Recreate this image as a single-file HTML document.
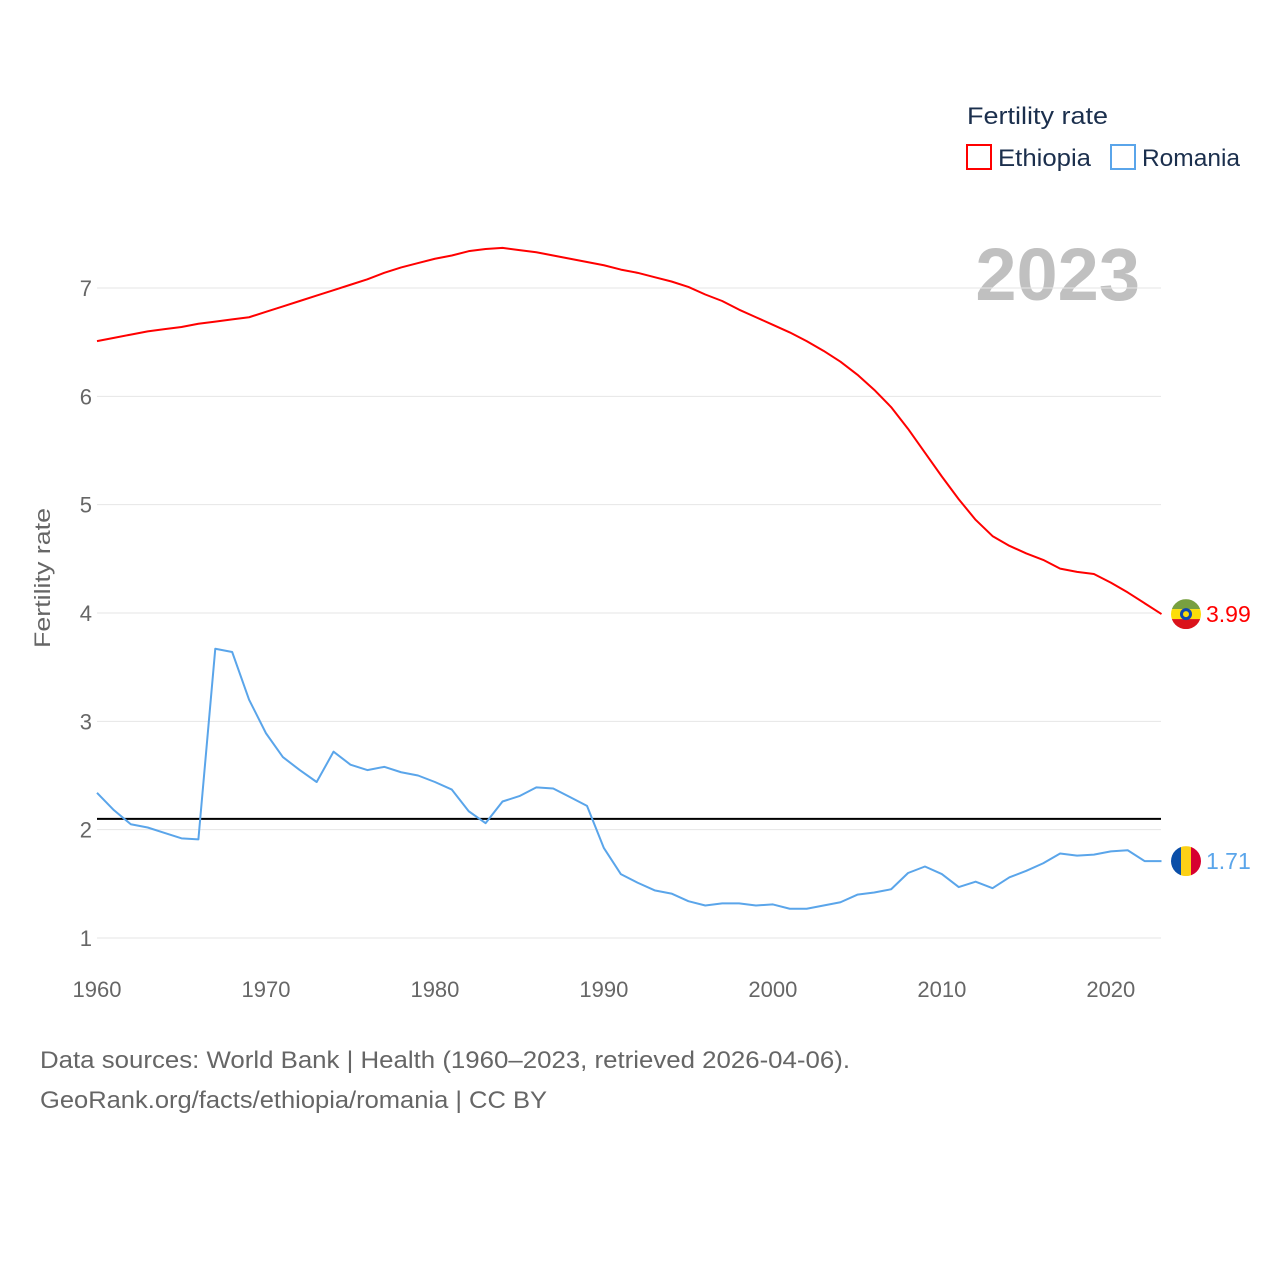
<!DOCTYPE html>
<html><head><meta charset="utf-8"><style>
body{margin:0;background:#fff;}
svg{display:block;font-family:"Liberation Sans",sans-serif;}
</style></head><body>
<svg id="c" width="1280" height="1280" xmlns="http://www.w3.org/2000/svg">
<text x="967" y="124" font-size="24" fill="#1b2f4d" textLength="141" lengthAdjust="spacingAndGlyphs">Fertility rate</text>
<g>
<rect x="967" y="145" width="24" height="24" fill="none" stroke="#f00" stroke-width="2"/>
<text x="998" y="166" font-size="24" fill="#1b2f4d" textLength="93" lengthAdjust="spacingAndGlyphs">Ethiopia</text></g>
<g>
<rect x="1111" y="145" width="24" height="24" fill="none" stroke="#5aa5ea" stroke-width="2"/>
<text x="1142" y="166" font-size="24" fill="#1b2f4d" textLength="98" lengthAdjust="spacingAndGlyphs">Romania</text></g>
<text x="1140" y="300" font-size="74" font-weight="bold" fill="#c0c0c0" text-anchor="end">2023</text>
<text transform="translate(50,578) rotate(-90)" font-size="22" fill="#666" text-anchor="middle" textLength="140" lengthAdjust="spacingAndGlyphs">Fertility rate</text>
<g id="grid"></g><g id="series"></g>
<text x="40" y="1068" font-size="24" fill="#666" textLength="810" lengthAdjust="spacingAndGlyphs">Data sources: World Bank | Health (1960–2023, retrieved 2026-04-06).</text>
<text x="40" y="1108" font-size="24" fill="#666" textLength="507" lengthAdjust="spacingAndGlyphs">GeoRank.org/facts/ethiopia/romania | CC BY</text>
</svg>
<script>
const years=[];for(let y=1960;y<=2023;y++)years.push(y);
const ethiopia=[6.51,6.54,6.57,6.60,6.62,6.64,6.67,6.69,6.71,6.73,6.78,6.83,6.88,6.93,6.98,7.03,7.08,7.14,7.19,7.23,7.27,7.30,7.34,7.36,7.37,7.35,7.33,7.30,7.27,7.24,7.21,7.17,7.14,7.10,7.06,7.01,6.94,6.88,6.80,6.73,6.66,6.59,6.51,6.42,6.32,6.20,6.06,5.90,5.70,5.48,5.26,5.05,4.86,4.71,4.62,4.55,4.49,4.41,4.38,4.36,4.28,4.19,4.09,3.99];
const romania=[2.34,2.18,2.05,2.02,1.97,1.92,1.91,3.67,3.64,3.20,2.89,2.67,2.55,2.44,2.72,2.60,2.55,2.58,2.53,2.50,2.44,2.37,2.17,2.06,2.26,2.31,2.39,2.38,2.30,2.22,1.83,1.59,1.51,1.44,1.41,1.34,1.30,1.32,1.32,1.30,1.31,1.27,1.27,1.30,1.33,1.40,1.42,1.45,1.60,1.66,1.59,1.47,1.52,1.46,1.56,1.62,1.69,1.78,1.76,1.77,1.80,1.81,1.71,1.71];
const yTicks=[1,2,3,4,5,6,7];
const xTicks=[1960,1970,1980,1990,2000,2010,2020];
const replacement=2.1;
const X=y=>97+(y-1960)*(1161.5-97)/63;
const Y=v=>938-(v-1)*(938-288)/6;
const NS="http://www.w3.org/2000/svg";
function mk(t,a,p){const e=document.createElementNS(NS,t);for(const k in a)e.setAttribute(k,a[k]);p.appendChild(e);return e;}
const g=document.getElementById('grid'),s=document.getElementById('series');
yTicks.forEach(v=>{
 const l=mk('line',{x1:97,x2:1161,y1:Y(v),y2:Y(v),stroke:'#e6e6e6','stroke-width':1},g);
 
 
 const t=mk('text',{x:92,y:Y(v)+8,'font-size':22,fill:'#666','text-anchor':'end'},g);t.textContent=v;
 
 
});
xTicks.forEach(v=>{
 const t=mk('text',{x:X(v),y:997,'font-size':22,fill:'#666','text-anchor':'middle'},g);t.textContent=v;
 
 
});
const rl=mk('line',{x1:97,x2:1161,y1:Y(replacement),y2:Y(replacement),stroke:'#000','stroke-width':2},s);


function line(d,c,n){const p=mk('polyline',{points:d.map((v,i)=>X(years[i])+','+Y(v)).join(' '),fill:'none',stroke:c,'stroke-width':2,'stroke-linejoin':'round'},s);
 
 }
line(ethiopia,'#f00','ethiopia-line');line(romania,'#5aa5ea','romania-line');
function flag(v,kind,c,n){
 const cy=Y(v),cx=1186,r=15;
 const gg=mk('g',{},s);
 
 
 const id='clip'+kind;const cpth=mk('clipPath',{id:id},gg);
 mk('circle',{cx:cx,cy:cy,r:r},cpth);
 const inner=mk('g',{'clip-path':'url(#'+id+')'},gg);
 if(kind==='et'){mk('rect',{x:cx-r,y:cy-r,width:30,height:10,fill:'#78a040'},inner);mk('rect',{x:cx-r,y:cy-5,width:30,height:10,fill:'#fcdd09'},inner);mk('rect',{x:cx-r,y:cy+5,width:30,height:10,fill:'#da121a'},inner);mk('circle',{cx:cx,cy:cy,r:6,fill:'#0f47af'},inner);mk('circle',{cx:cx,cy:cy,r:3,fill:'#fcdd09'},inner);}
 else{mk('rect',{x:cx-r,y:cy-r,width:10,height:30,fill:'#0a4ea8'},inner);mk('rect',{x:cx-5,y:cy-r,width:10,height:30,fill:'#fcd116'},inner);mk('rect',{x:cx+5,y:cy-r,width:10,height:30,fill:'#d60030'},inner);}
 const t=mk('text',{x:1206,y:cy+8,'font-size':23,fill:c},s);t.textContent=v.toFixed(2);
 
 
}
flag(ethiopia[ethiopia.length-1],'et','#f00','ethiopia');
flag(romania[romania.length-1],'ro','#5aa5ea','romania');
</script>
</body></html>
